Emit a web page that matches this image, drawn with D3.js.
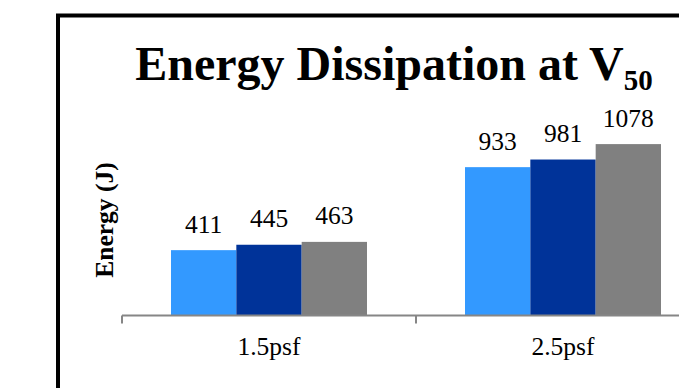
<!DOCTYPE html>
<html>
<head>
<meta charset="utf-8">
<script src="https://cdn.jsdelivr.net/npm/d3@7"></script>
<style>
  html, body { margin: 0; padding: 0; background: #fff; }
  svg { display: block; font-family: "Liberation Serif", "Times New Roman", serif; }
</style>
</head>
<body>
<svg id="chart" width="679" height="388"></svg>
<script>
// Categories (areal density) and the three series of dissipated energy (J)
const categories = ["1.5psf", "2.5psf"];
const seriesNames = ["A", "B", "C"];
const seriesA = [411, 933];
const seriesB = [445, 981];
const seriesC = [463, 1078];
const seriesColors = ["#3399ff", "#003399", "#808080"];

const allSeries = [seriesA, seriesB, seriesC];
const rows = categories.map((c, i) => ({
  category: c,
  values: allSeries.map((s, k) => ({ key: seriesNames[k], value: s[i] }))
}));

const svg = d3.select("#chart");

// Plot geometry
const plotLeft = 122, band = 294, baseY = 315.5;

const x0 = d3.scaleBand()
  .domain(categories)
  .range([plotLeft, plotLeft + band * categories.length])
  .paddingInner(0).paddingOuter(0);

const gap = x0.bandwidth() / 3;
const x1 = d3.scaleBand()
  .domain(seriesNames)
  .range([gap / 2, x0.bandwidth() - gap / 2])
  .padding(0);

const y = d3.scaleLinear().domain([0, 1200]).range([baseY, 124.7]);

const color = d3.scaleOrdinal().domain(seriesNames).range(seriesColors);

// Outer chart frame
svg.append("rect")
  .attr("x", 58).attr("y", 15.5)
  .attr("width", 800).attr("height", 600)
  .attr("fill", "none").attr("stroke", "#000").attr("stroke-width", 4);

// Title with subscript
const title = svg.append("text")
  .attr("x", 394).attr("y", 80)
  .attr("text-anchor", "middle")
  .attr("font-size", 48).attr("font-weight", "bold")
  .attr("fill", "#000");
title.append("tspan").text("Energy Dissipation at V");
title.append("tspan").attr("font-size", 29).attr("dy", 10).text("50");

// Y axis title
svg.append("text")
  .attr("transform", `translate(113,220) rotate(-90)`)
  .attr("text-anchor", "middle")
  .attr("font-size", 25.5).attr("font-weight", "bold")
  .attr("fill", "#000")
  .text("Energy (J)");

// Bars
const groups = svg.append("g").selectAll("g")
  .data(rows).join("g")
  .attr("transform", d => `translate(${x0(d.category)},0)`);

groups.selectAll("rect")
  .data(d => d.values).join("rect")
  .attr("x", d => x1(d.key))
  .attr("y", d => y(d.value))
  .attr("width", x1.bandwidth())
  .attr("height", d => y(0) - y(d.value))
  .attr("fill", d => color(d.key));

// Value labels
groups.selectAll("text.val")
  .data(d => d.values).join("text")
  .attr("class", "val")
  .attr("x", d => x1(d.key) + x1.bandwidth() / 2)
  .attr("y", d => y(d.value) - 17.5)
  .attr("text-anchor", "middle")
  .attr("font-size", 25.5)
  .attr("fill", "#000")
  .text(d => d.value);

// Category axis: boundary ticks below the baseline
const axis = d3.axisBottom(x0).tickSize(0).tickPadding(0).tickFormat("");
const axisG = svg.append("g").attr("transform", `translate(0,${baseY})`).call(axis);
axisG.select(".domain").attr("stroke", "#868686").attr("stroke-width", 2)
  .attr("d", `M${x0.range()[0]},0H${x0.range()[1]}`);
axisG.selectAll(".tick").remove();

const boundaries = categories.map(c => x0(c)).concat([x0.range()[1]]);
axisG.selectAll("line.boundary")
  .data(boundaries).join("line")
  .attr("class", "boundary")
  .attr("x1", d => d).attr("x2", d => d)
  .attr("y1", 0).attr("y2", 8)
  .attr("stroke", "#868686").attr("stroke-width", 2);

axisG.selectAll("text.cat")
  .data(categories).join("text")
  .attr("class", "cat")
  .attr("x", d => x0(d) + x0.bandwidth() / 2)
  .attr("y", 355 - baseY)
  .attr("text-anchor", "middle")
  .attr("font-size", 25.5)
  .attr("fill", "#000")
  .attr("font-family", "Liberation Serif, Times New Roman, serif")
  .text(d => d);
</script>
</body>
</html>
